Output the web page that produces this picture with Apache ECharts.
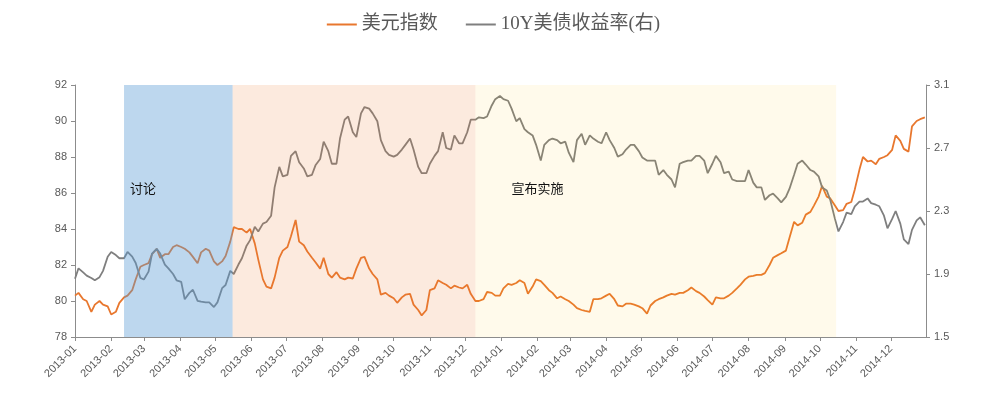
<!DOCTYPE html>
<html>
<head>
<meta charset="utf-8">
<script src="https://cdn.jsdelivr.net/npm/echarts@6/dist/echarts.min.js"></script>
<style>
html,body{margin:0;padding:0;background:#fff;}
#chart{width:987px;height:396px;}
</style>
</head>
<body>
<div id="chart"></div>
<script>
// Observation dates (twice weekly)
var dates = [
'2013-01-01','2013-01-04','2013-01-08','2013-01-11','2013-01-15','2013-01-18','2013-01-22','2013-01-25','2013-01-29','2013-02-01',
'2013-02-05','2013-02-08','2013-02-12','2013-02-15','2013-02-19','2013-02-22','2013-02-26','2013-03-01','2013-03-05','2013-03-08',
'2013-03-12','2013-03-15','2013-03-19','2013-03-22','2013-03-26','2013-03-29','2013-04-02','2013-04-05','2013-04-09','2013-04-12',
'2013-04-16','2013-04-19','2013-04-23','2013-04-26','2013-04-30','2013-05-03','2013-05-07','2013-05-10','2013-05-14','2013-05-17',
'2013-05-21','2013-05-24','2013-05-28','2013-05-31','2013-06-04','2013-06-07','2013-06-11','2013-06-14','2013-06-18','2013-06-21',
'2013-06-25','2013-06-28','2013-07-02','2013-07-05','2013-07-09','2013-07-12','2013-07-16','2013-07-19','2013-07-23','2013-07-26',
'2013-07-30','2013-08-02','2013-08-06','2013-08-09','2013-08-13','2013-08-16','2013-08-20','2013-08-23','2013-08-27','2013-08-30',
'2013-09-03','2013-09-06','2013-09-10','2013-09-13','2013-09-17','2013-09-20','2013-09-24','2013-09-27','2013-10-01','2013-10-04',
'2013-10-08','2013-10-11','2013-10-15','2013-10-18','2013-10-22','2013-10-25','2013-10-29','2013-11-01','2013-11-05','2013-11-08',
'2013-11-12','2013-11-15','2013-11-19','2013-11-22','2013-11-26','2013-11-29','2013-12-03','2013-12-06','2013-12-10','2013-12-13',
'2013-12-17','2013-12-20','2013-12-24','2013-12-27','2013-12-31',
'2014-01-03','2014-01-07','2014-01-10','2014-01-14','2014-01-17','2014-01-21','2014-01-24','2014-01-28','2014-01-31','2014-02-04',
'2014-02-07','2014-02-11','2014-02-14','2014-02-18','2014-02-21','2014-02-25','2014-02-28','2014-03-04','2014-03-07','2014-03-11',
'2014-03-14','2014-03-18','2014-03-21','2014-03-25','2014-03-28','2014-04-01','2014-04-04','2014-04-08','2014-04-11','2014-04-15',
'2014-04-18','2014-04-22','2014-04-25','2014-04-29','2014-05-02','2014-05-06','2014-05-09','2014-05-13','2014-05-16','2014-05-20',
'2014-05-23','2014-05-27','2014-05-30','2014-06-03','2014-06-06','2014-06-10','2014-06-13','2014-06-17','2014-06-20','2014-06-24',
'2014-06-27','2014-07-01','2014-07-04','2014-07-08','2014-07-11','2014-07-15','2014-07-18','2014-07-22','2014-07-25','2014-07-29',
'2014-08-01','2014-08-05','2014-08-08','2014-08-12','2014-08-15','2014-08-19','2014-08-22','2014-08-26','2014-08-29','2014-09-02',
'2014-09-05','2014-09-09','2014-09-12','2014-09-16','2014-09-19','2014-09-23','2014-09-26','2014-09-30','2014-10-03','2014-10-07',
'2014-10-10','2014-10-14','2014-10-17','2014-10-21','2014-10-24','2014-10-28','2014-10-31','2014-11-04','2014-11-07','2014-11-11',
'2014-11-14','2014-11-18','2014-11-21','2014-11-25','2014-11-28','2014-12-02','2014-12-05','2014-12-09','2014-12-12','2014-12-16',
'2014-12-19','2014-12-23','2014-12-26','2014-12-30'
];

// 美元指数 (left axis)
var usdIndex = [
80.3,80.45,80.1,80.0,79.4,79.8,80.0,79.8,79.7,79.25,
79.4,79.9,80.2,80.3,80.6,81.2,81.9,82.0,82.1,82.6,
82.9,82.4,82.6,82.6,83.0,83.1,83.0,82.9,82.7,82.45,
82.1,82.7,82.9,82.8,82.2,82.0,82.2,82.5,83.3,84.1,
84.0,84.0,83.8,84.0,83.2,82.3,81.2,80.8,80.7,81.3,
82.4,82.8,83.0,83.6,84.5,83.3,83.1,82.75,82.4,82.15,
81.8,82.4,81.5,81.3,81.6,81.3,81.2,81.3,81.25,81.8,
82.4,82.45,81.8,81.5,81.2,80.35,80.45,80.3,80.15,79.9,
80.2,80.35,80.4,79.8,79.5,79.2,79.5,80.6,80.7,81.15,
81.0,80.9,80.7,80.85,80.75,80.7,80.9,80.4,80.0,80.0,
80.1,80.5,80.45,80.3,80.3,
80.7,80.95,80.9,81.0,81.15,81.0,80.4,80.8,81.2,81.1,
80.9,80.6,80.45,80.15,80.25,80.1,80.0,79.8,79.6,79.5,
79.45,79.4,80.1,80.1,80.15,80.3,80.4,80.1,79.75,79.7,
79.85,79.85,79.8,79.7,79.6,79.3,79.75,80.0,80.1,80.2,
80.3,80.4,80.35,80.45,80.45,80.6,80.75,80.55,80.45,80.25,
80.05,79.8,80.2,80.15,80.15,80.3,80.45,80.7,80.9,81.2,
81.35,81.4,81.45,81.45,81.55,82.0,82.4,82.55,82.65,82.8,
83.5,84.4,84.2,84.35,84.8,84.95,85.3,85.8,86.4,85.8,
85.7,85.3,85.0,85.05,85.4,85.5,86.2,87.3,88.0,87.75,
87.8,87.6,87.9,88.0,88.1,88.4,89.2,88.9,88.45,88.3,
89.7,90.0,90.1,90.2
];

// 10Y美债收益率 (right axis, %)
var ust10y = [
1.87,1.936,1.91,1.89,1.875,1.86,1.88,1.92,2.01,2.04,
2.02,2.0,2.0,2.04,2.01,1.97,1.875,1.865,1.915,2.03,
2.06,2.03,1.96,1.936,1.9,1.86,1.85,1.74,1.78,1.80,
1.73,1.724,1.72,1.72,1.69,1.72,1.81,1.83,1.92,1.90,
1.96,2.0,2.08,2.115,2.2,2.17,2.22,2.23,2.27,2.45,
2.58,2.52,2.53,2.65,2.68,2.61,2.57,2.52,2.53,2.59,
2.63,2.74,2.68,2.6,2.6,2.76,2.88,2.90,2.8,2.77,
2.92,2.96,2.95,2.92,2.87,2.75,2.68,2.656,2.645,2.656,
2.69,2.72,2.76,2.69,2.58,2.54,2.54,2.60,2.65,2.68,
2.80,2.70,2.69,2.78,2.73,2.73,2.80,2.88,2.88,2.895,
2.89,2.90,2.97,3.01,3.03,
3.01,3.0,2.95,2.87,2.89,2.82,2.80,2.78,2.72,2.62,
2.72,2.75,2.76,2.75,2.73,2.74,2.67,2.61,2.75,2.79,
2.72,2.78,2.76,2.74,2.73,2.80,2.75,2.70,2.645,2.66,
2.69,2.72,2.72,2.68,2.64,2.62,2.62,2.62,2.53,2.56,
2.53,2.50,2.45,2.60,2.61,2.62,2.62,2.65,2.65,2.62,
2.54,2.60,2.65,2.61,2.54,2.55,2.50,2.49,2.49,2.49,
2.56,2.48,2.45,2.45,2.37,2.40,2.41,2.38,2.355,2.39,
2.44,2.53,2.60,2.62,2.595,2.56,2.55,2.52,2.45,2.43,
2.37,2.25,2.17,2.23,2.29,2.28,2.33,2.36,2.36,2.38,
2.35,2.34,2.33,2.27,2.19,2.25,2.30,2.22,2.12,2.09,
2.18,2.24,2.26,2.21
];

// Policy phases (shaded periods)
var phaseNames = ['讨论', '', '宣布实施'];
var phaseStart = ['2013-02-12', '2013-05-16', '2013-12-10'];
var phaseEnd   = ['2013-05-16', '2013-12-10', '2014-10-15'];

var leftTicks = {min: 78, max: 92, interval: 2};
var rightTicks = {min: 1.5, max: 3.1, interval: 0.4};

var phaseColors = ['rgba(91,155,213,0.40)', 'rgba(237,125,49,0.16)', 'rgba(255,192,0,0.08)'];
var phaseLabelOffset = [[6, 97], [6, 97], [36, 97]];

function zip(xs, ys) { return xs.map(function (x, i) { return [x, ys[i]]; }); }

var areas = phaseStart.map(function (s, i) {
  return [{
    xAxis: s,
    itemStyle: {color: phaseColors[i]},
    label: {
      show: !!phaseNames[i],
      position: phaseLabelOffset[i],
      color: '#111',
      fontSize: 13,
      fontFamily: "'Noto Sans CJK SC', sans-serif"
    },
    name: phaseNames[i]
  }, {xAxis: phaseEnd[i]}];
});

var axisColor = '#8c8c8c';
var labelColor = '#595959';
var DAY = 86400000;

var chart = echarts.init(document.getElementById('chart'), null, {renderer: 'canvas'});
chart.setOption({
  animation: false,
  backgroundColor: '#fff',
  legend: {
    top: 10,
    left: 'center',
    itemWidth: 30,
    itemHeight: 2,
    itemGap: 28,
    icon: 'rect',
    textStyle: {fontSize: 19, color: '#595959', fontFamily: "'Liberation Serif', 'Noto Sans CJK SC', serif"},
    data: ['美元指数', '10Y美债收益率(右)']
  },
  grid: {left: 75, right: 61, top: 85, bottom: 59, containLabel: false},
  xAxis: {
    type: 'time',
    min: '2013-01-01',
    max: '2014-12-31',
    minInterval: 28 * DAY,
    maxInterval: 31 * DAY,
    splitLine: {show: false},
    axisLine: {lineStyle: {color: axisColor, width: 1}},
    axisTick: {show: true, length: 4, lineStyle: {color: axisColor}},
    axisLabel: {
      rotate: 45,
      formatter: '{yyyy}-{MM}',
      fontSize: 11,
      color: labelColor,
      fontFamily: "'Liberation Sans', Arial, sans-serif",
      margin: 10,
      hideOverlap: false
    }
  },
  yAxis: [{
    type: 'value',
    min: leftTicks.min, max: leftTicks.max, interval: leftTicks.interval,
    splitLine: {show: false},
    axisLine: {show: true, lineStyle: {color: axisColor}},
    axisTick: {show: true, length: 4, lineStyle: {color: axisColor}},
    axisLabel: {fontSize: 11, color: labelColor, fontFamily: "'Liberation Sans', Arial, sans-serif", margin: 8}
  }, {
    type: 'value',
    position: 'right',
    min: rightTicks.min, max: rightTicks.max, interval: rightTicks.interval,
    splitLine: {show: false},
    axisLine: {show: true, lineStyle: {color: axisColor}},
    axisTick: {show: true, length: 4, lineStyle: {color: axisColor}},
    axisLabel: {fontSize: 11, color: labelColor, fontFamily: "'Liberation Sans', Arial, sans-serif", margin: 8,
      formatter: function (v) { return v.toFixed(1); }}
  }],
  series: [{
    name: '美元指数',
    type: 'line',
    yAxisIndex: 0,
    showSymbol: false,
    symbol: 'none',
    z: 2,
    color: '#E8772E',
    lineStyle: {width: 1.8, color: '#E8772E'},
    data: zip(dates, usdIndex)
  }, {
    name: '10Y美债收益率(右)',
    type: 'line',
    yAxisIndex: 1,
    showSymbol: false,
    symbol: 'none',
    z: 2,
    color: '#7F7F7F',
    lineStyle: {width: 1.8, color: '#7F7F7F'},
    data: zip(dates, ust10y)
  }, {
    name: 'phases',
    type: 'line',
    yAxisIndex: 0,
    z: 10,
    zlevel: 1,
    symbol: 'none',
    data: [],
    markArea: {
      silent: true,
      z: 10,
      zlevel: 1,
      data: areas
    }
  }]
});
</script>
</body>
</html>
